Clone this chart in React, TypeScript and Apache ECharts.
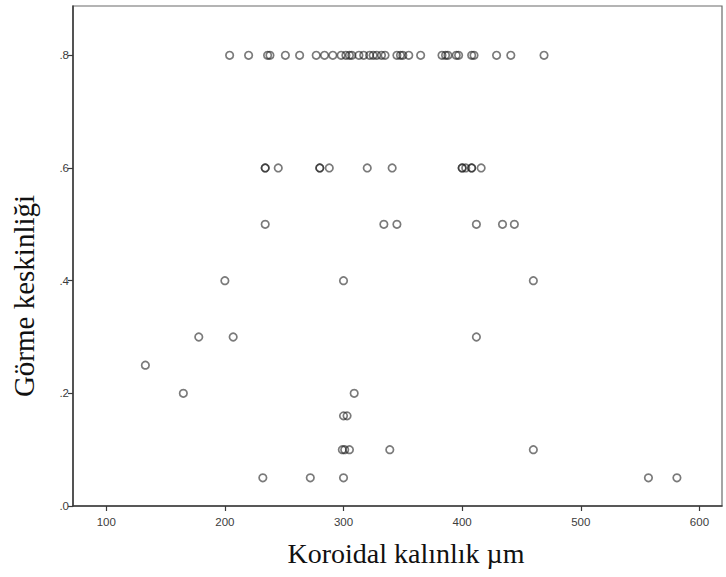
import React, { useEffect, useRef } from "react";
import * as echarts from "echarts";

// Koroidal kalınlık (µm) values for each Görme keskinliği level
const va080 = [204, 220, 236, 238, 251, 263, 277, 284, 291, 298, 302, 305, 307, 313, 317, 322, 325, 328, 332, 335, 345, 348, 350, 355, 365, 383, 386, 388, 395, 397, 408, 410, 429, 441, 469];
const va060 = [234, 234, 245, 280, 280, 288, 320, 341, 400, 400, 403, 408, 408, 416];
const va050 = [234, 334, 345, 412, 434, 444];
const va040 = [200, 300, 460];
const va030 = [178, 207, 412];
const va025 = [133];
const va020 = [165, 309];
const va016 = [300, 303];
const va010 = [299, 301, 305, 339, 460];
const va005 = [232, 272, 300, 557, 581];

const levels = [0.8, 0.6, 0.5, 0.4, 0.3, 0.25, 0.2, 0.16, 0.1, 0.05];
const rows = [va080, va060, va050, va040, va030, va025, va020, va016, va010, va005];

const xTicks = [100, 200, 300, 400, 500, 600];
const yTicks = [0, 0.2, 0.4, 0.6, 0.8];

const xTitle = "Koroidal kalınlık µm";
const yTitle = "Görme keskinliği";

export default function App() {
  const ref = useRef<HTMLDivElement>(null);
  useEffect(() => {
    if (!ref.current) return;
    const chart = echarts.init(ref.current, null, { renderer: "svg" });
    const data: number[][] = [];
    rows.forEach((r, i) => r.forEach((x) => data.push([x, levels[i]])));
    const axisColor = "#3a3a3a";
    chart.setOption({
      animation: false,
      backgroundColor: "#ffffff",
      grid: {
        left: 73,
        top: 6,
        right: 4,
        bottom: 71,
        show: true,
        borderColor: "#6a6a6a",
        borderWidth: 1.2,
        backgroundColor: "transparent",
      },
      xAxis: {
        type: "value",
        min: 72,
        max: 619,
        splitLine: { show: false },
        axisLine: { show: true, onZero: false, lineStyle: { color: axisColor, width: 1.5 } },
        axisTick: { show: true, length: 5, customValues: xTicks, lineStyle: { color: axisColor, width: 1.2 } },
        axisLabel: {
          customValues: xTicks,
          color: "#3c3c3c",
          fontFamily: "Liberation Sans, Arial, sans-serif",
          fontSize: 11.5,
          margin: 10,
        },
      },
      yAxis: {
        type: "value",
        min: 0,
        max: 0.8875,
        splitLine: { show: false },
        axisLine: { show: true, onZero: false, lineStyle: { color: axisColor, width: 1.5 } },
        axisTick: { show: true, length: 5, customValues: yTicks, lineStyle: { color: axisColor, width: 1.2 } },
        axisLabel: {
          customValues: yTicks,
          color: "#3c3c3c",
          fontFamily: "Liberation Sans, Arial, sans-serif",
          fontSize: 11.5,
          margin: 4,
          formatter: (v: number) => {
            const s = v.toFixed(1);
            return s.startsWith("0") ? s.slice(1) : s;
          },
        },
      },
      graphic: [
        {
          type: "text",
          x: 406,
          y: 553,
          style: {
            text: xTitle,
            fill: "#111",
            font: "28px 'Liberation Serif', 'Times New Roman', serif",
            textAlign: "center",
            textVerticalAlign: "middle",
          },
        },
        {
          type: "text",
          x: 24,
          y: 296,
          rotation: Math.PI / 2,
          style: {
            text: yTitle,
            fill: "#111",
            font: "29px 'Liberation Serif', 'Times New Roman', serif",
            textAlign: "center",
            textVerticalAlign: "middle",
          },
        },
      ],
      series: [
        {
          type: "scatter",
          data,
          symbol: "circle",
          symbolSize: 7.5,
          itemStyle: {
            color: "rgba(255,255,255,0)",
            borderColor: "rgba(25,25,25,0.72)",
            borderWidth: 1.7,
          },
        },
      ],
    });
    return () => chart.dispose();
  }, []);
  return <div ref={ref} style={{ width: 726, height: 577, position: "absolute", left: 0, top: 0 }} />;
}
